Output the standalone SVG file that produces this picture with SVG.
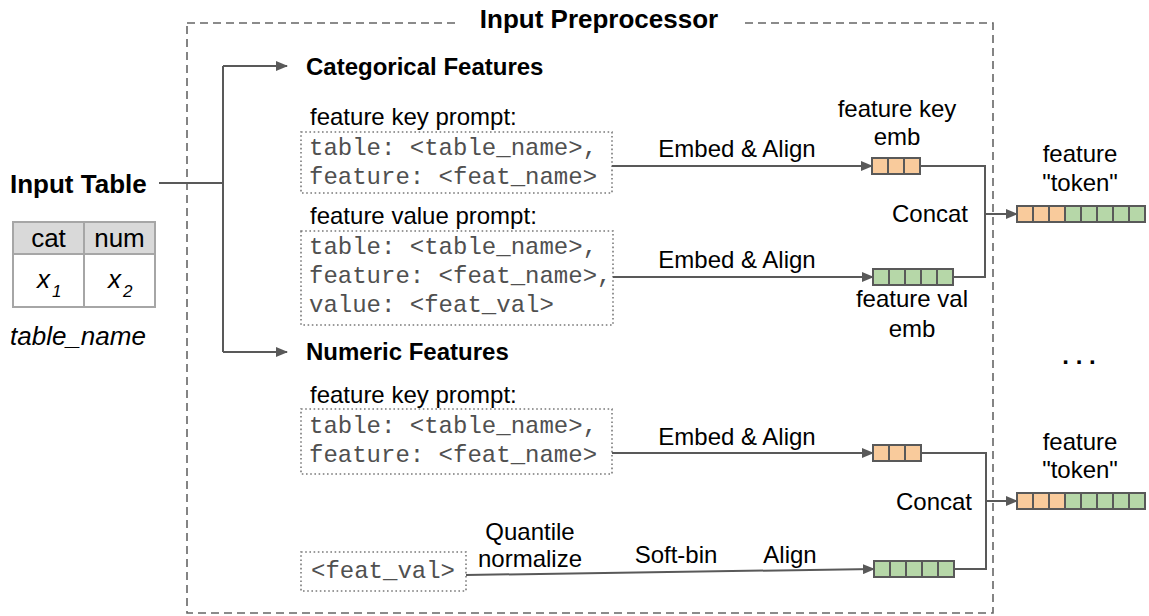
<svg xmlns="http://www.w3.org/2000/svg" width="1149" height="616" viewBox="0 0 1149 616">
<defs>
<marker id="ah" markerWidth="12" markerHeight="10" refX="11" refY="5" orient="auto" markerUnits="userSpaceOnUse">
<path d="M0,0 L12,5 L0,10 Z" fill="#595959"/>
</marker>
<style>
.t{font-family:"Liberation Sans",Arial,sans-serif;font-size:24px;fill:#000}
.b{font-weight:bold}
.m{font-family:"Liberation Mono","Courier New",monospace;font-size:24px;fill:#505050}
.big{font-size:26px}
.i{font-style:italic}
.c{stroke:#595959;stroke-width:2;fill:none}
.dot{fill:none;stroke:#7a7a7a;stroke-width:1.6;stroke-dasharray:1.6 2.6}
.or{fill:#f9cb9c;stroke:#595959;stroke-width:2}
.gr{fill:#b6d7a8;stroke:#595959;stroke-width:2}
</style>
</defs>
<rect width="1149" height="616" fill="#fff"/>

<g id="preprocessor">
<path d="M187,23 H455 M745,23 H993 V613 H187 V23" fill="none" stroke="#666" stroke-width="1.6" stroke-dasharray="8 5"/>
<text class="t b big" x="599" y="28" text-anchor="middle">Input Preprocessor</text>
</g>

<g id="input-table">
<text class="t b big" x="10" y="193">Input Table</text>
<rect x="13" y="222" width="142" height="32" fill="#d9d9d9"/>
<rect x="13" y="222" width="142" height="85" fill="none" stroke="#a6a6a6" stroke-width="2"/>
<line x1="13" y1="254" x2="155" y2="254" stroke="#a6a6a6" stroke-width="2"/>
<line x1="84" y1="222" x2="84" y2="307" stroke="#a6a6a6" stroke-width="2"/>
<text class="t big" x="48.5" y="247" text-anchor="middle">cat</text>
<text class="t big" x="119.5" y="247" text-anchor="middle">num</text>
<text class="t big i" x="37" y="288">x<tspan font-size="17" dx="2" dy="9">1</tspan></text>
<text class="t big i" x="108" y="288">x<tspan font-size="17" dx="2" dy="9">2</tspan></text>
<text class="t big i" x="10" y="345">table_name</text>
</g>

<g id="categorical-header">
<text class="t b" x="306" y="75">Categorical Features</text>
</g>
<g id="numeric-header">
<text class="t b" x="306" y="360">Numeric Features</text>
</g>

<g id="cat-key-prompt">
<text class="t" x="310" y="125">feature key prompt:</text>
<rect class="dot" x="301" y="132" width="311" height="61"/>
<text class="m" x="309" y="155">table: &lt;table_name&gt;,</text>
<text class="m" x="309" y="184">feature: &lt;feat_name&gt;</text>
</g>

<g id="cat-value-prompt">
<text class="t" x="310" y="224">feature value prompt:</text>
<rect class="dot" x="301" y="231" width="312" height="94"/>
<text class="m" x="309" y="254">table: &lt;table_name&gt;,</text>
<text class="m" x="309" y="283">feature: &lt;feat_name&gt;,</text>
<text class="m" x="309" y="312">value: &lt;feat_val&gt;</text>
</g>

<g id="num-key-prompt">
<text class="t" x="310" y="403">feature key prompt:</text>
<rect class="dot" x="301" y="409" width="311" height="65"/>
<text class="m" x="309" y="433">table: &lt;table_name&gt;,</text>
<text class="m" x="309" y="462">feature: &lt;feat_name&gt;</text>
</g>

<g id="num-value">
<rect class="dot" x="301" y="552" width="165" height="39"/>
<text class="m" x="311" y="578">&lt;feat_val&gt;</text>
</g>

<g id="cat-key-emb">
<text class="t" x="897" y="117" text-anchor="middle">feature key</text>
<text class="t" x="897" y="145" text-anchor="middle">emb</text>
<rect class="or" x="872" y="158" width="16" height="16"/>
<rect class="or" x="888" y="158" width="16" height="16"/>
<rect class="or" x="904" y="158" width="16" height="16"/>
</g>

<g id="cat-val-emb">
<rect class="gr" x="873" y="269" width="16" height="16"/>
<rect class="gr" x="889" y="269" width="16" height="16"/>
<rect class="gr" x="905" y="269" width="16" height="16"/>
<rect class="gr" x="921" y="269" width="16" height="16"/>
<rect class="gr" x="937" y="269" width="16" height="16"/>
<text class="t" x="912" y="307" text-anchor="middle">feature val</text>
<text class="t" x="912" y="337" text-anchor="middle">emb</text>
</g>

<g id="cat-token">
<text class="t" x="1080" y="162" text-anchor="middle">feature</text>
<text class="t" x="1080" y="191" text-anchor="middle">"token"</text>
<rect class="or" x="1017" y="206" width="16" height="16"/>
<rect class="or" x="1033" y="206" width="16" height="16"/>
<rect class="or" x="1049" y="206" width="16" height="16"/>
<rect class="gr" x="1065" y="206" width="16" height="16"/>
<rect class="gr" x="1081" y="206" width="16" height="16"/>
<rect class="gr" x="1097" y="206" width="16" height="16"/>
<rect class="gr" x="1113" y="206" width="16" height="16"/>
<rect class="gr" x="1129" y="206" width="16" height="16"/>
</g>

<g id="num-key-emb">
<rect class="or" x="873" y="445" width="16" height="16"/>
<rect class="or" x="889" y="445" width="16" height="16"/>
<rect class="or" x="905" y="445" width="16" height="16"/>
</g>

<g id="num-val-emb">
<rect class="gr" x="874" y="561" width="16" height="16"/>
<rect class="gr" x="890" y="561" width="16" height="16"/>
<rect class="gr" x="906" y="561" width="16" height="16"/>
<rect class="gr" x="922" y="561" width="16" height="16"/>
<rect class="gr" x="938" y="561" width="16" height="16"/>
</g>

<g id="num-token">
<text class="t" x="1080" y="450" text-anchor="middle">feature</text>
<text class="t" x="1080" y="478" text-anchor="middle">"token"</text>
<rect class="or" x="1017" y="493" width="16" height="16"/>
<rect class="or" x="1033" y="493" width="16" height="16"/>
<rect class="or" x="1049" y="493" width="16" height="16"/>
<rect class="gr" x="1065" y="493" width="16" height="16"/>
<rect class="gr" x="1081" y="493" width="16" height="16"/>
<rect class="gr" x="1097" y="493" width="16" height="16"/>
<rect class="gr" x="1113" y="493" width="16" height="16"/>
<rect class="gr" x="1129" y="493" width="16" height="16"/>
</g>

<g id="ellipsis">
<text class="t b" x="1079" y="364" text-anchor="middle">. . .</text>
</g>

<g id="connectors">
<path class="c" d="M159,183 H223"/>
<path class="c" d="M223,66 V352"/>
<path class="c" d="M223,66 H287" marker-end="url(#ah)"/>
<path class="c" d="M223,352 H287" marker-end="url(#ah)"/>
<path class="c" d="M612,166 H872" marker-end="url(#ah)"/>
<path class="c" d="M613,277 H873" marker-end="url(#ah)"/>
<path class="c" d="M612,453 H873" marker-end="url(#ah)"/>
<path class="c" d="M466,575 L874,569" marker-end="url(#ah)"/>
<path class="c" d="M920,166 H985 V277 H953"/>
<path class="c" d="M985,214 H1017" marker-end="url(#ah)"/>
<path class="c" d="M921,453 H986 V569 H954"/>
<path class="c" d="M986,501 H1017" marker-end="url(#ah)"/>
<text class="t" x="737" y="157" text-anchor="middle">Embed &amp; Align</text>
<text class="t" x="737" y="268" text-anchor="middle">Embed &amp; Align</text>
<text class="t" x="737" y="445" text-anchor="middle">Embed &amp; Align</text>
<text class="t" x="930" y="222" text-anchor="middle">Concat</text>
<text class="t" x="934" y="510" text-anchor="middle">Concat</text>
<text class="t" x="530" y="540" text-anchor="middle">Quantile</text>
<text class="t" x="530" y="567" text-anchor="middle">normalize</text>
<text class="t" x="676" y="563" text-anchor="middle">Soft-bin</text>
<text class="t" x="790" y="563" text-anchor="middle">Align</text>
</g>
</svg>
